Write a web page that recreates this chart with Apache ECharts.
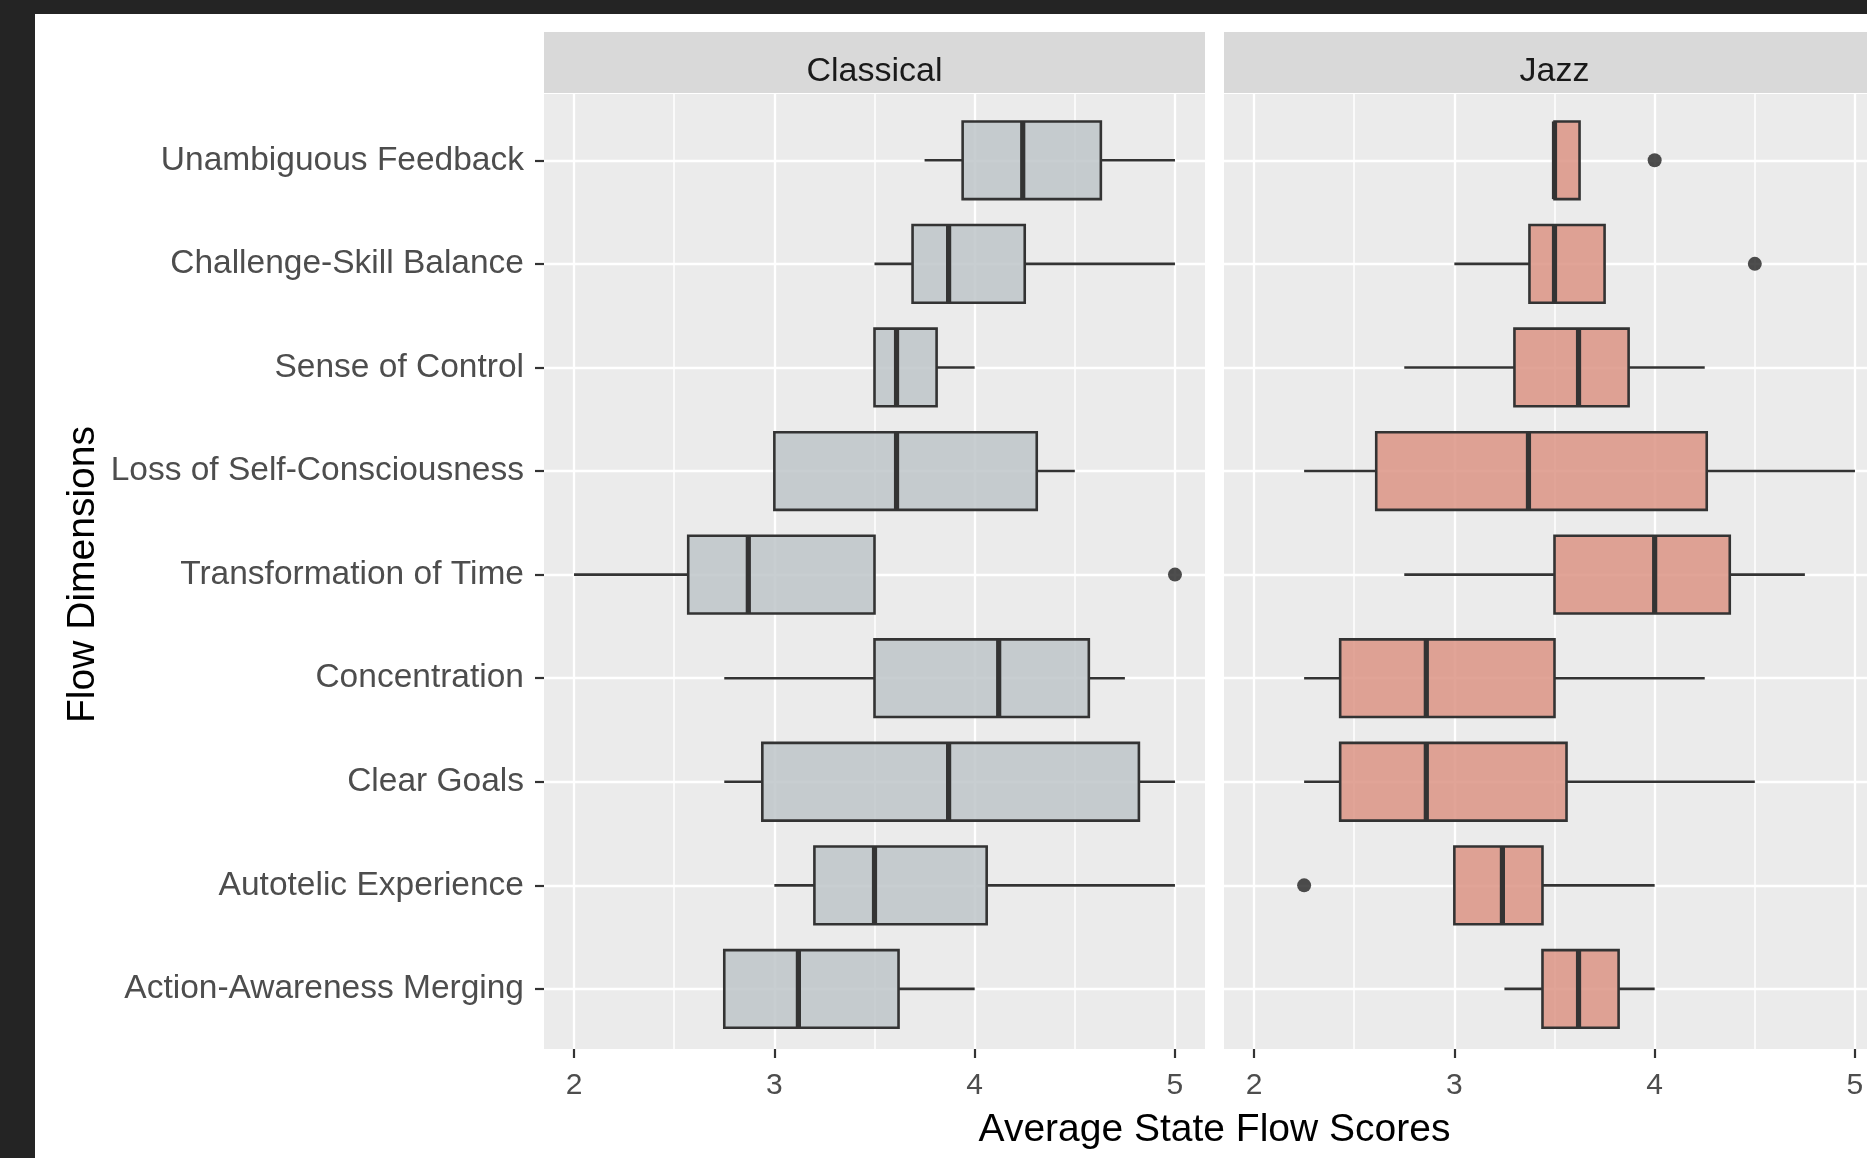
<!DOCTYPE html>
<html>
<head>
<meta charset="utf-8">
<title>Flow Dimensions by Genre</title>
<script src="https://cdn.jsdelivr.net/npm/echarts@6/dist/echarts.min.js"></script>
<style>
  html, body { margin: 0; padding: 0; background: #fff; }
  #chart { position: absolute; left: 0; top: 0; width: 1867px; height: 1158px; }
  .frame { position: absolute; background: #242424; }
</style>
</head>
<body>
<div id="chart"></div>
<div class="frame" style="left:0;top:0;width:1867px;height:14px"></div>
<div class="frame" style="left:0;top:0;width:35px;height:1158px"></div>
<script>
// flow dimensions, top to bottom as drawn
const dimensions = [
  'Unambiguous Feedback',
  'Challenge-Skill Balance',
  'Sense of Control',
  'Loss of Self-Consciousness',
  'Transformation of Time',
  'Concentration',
  'Clear Goals',
  'Autotelic Experience',
  'Action-Awareness Merging'
]
const panels = ['Classical', 'Jazz']
const xTicks = [2, 3, 4, 5]
const xMinorTicks = [2.5, 3.5, 4.5]

// [lower whisker, Q1, median, Q3, upper whisker]
const classicalStats = [
  [3.75, 3.94, 4.24, 4.63, 5.0],
  [3.5, 3.69, 3.87, 4.25, 5.0],
  [3.5, 3.5, 3.61, 3.81, 4.0],
  [3.0, 3.0, 3.61, 4.31, 4.5],
  [2.0, 2.57, 2.87, 3.5, 3.5],
  [2.75, 3.5, 4.12, 4.57, 4.75],
  [2.75, 2.94, 3.87, 4.82, 5.0],
  [3.0, 3.2, 3.5, 4.06, 5.0],
  [2.75, 2.75, 3.12, 3.62, 4.0]
]
const jazzStats = [
  [3.5, 3.5, 3.5, 3.625, 3.625],
  [3.0, 3.375, 3.5, 3.75, 3.75],
  [2.75, 3.3, 3.62, 3.87, 4.25],
  [2.25, 2.61, 3.37, 4.26, 5.0],
  [2.75, 3.5, 4.0, 4.375, 4.75],
  [2.25, 2.43, 2.86, 3.5, 4.25],
  [2.25, 2.43, 2.86, 3.56, 4.5],
  [3.0, 3.0, 3.24, 3.44, 4.0],
  [3.25, 3.44, 3.62, 3.82, 4.0]
]
// outliers: [dimension, value]
const classicalOutliers = [['Transformation of Time', 5.0]]
const jazzOutliers = [
  ['Unambiguous Feedback', 4.0],
  ['Challenge-Skill Balance', 4.5],
  ['Autotelic Experience', 2.25]
]

// layout (px)
const panelTop = 94
const panelH = 955
const panelW = 661
const panelLeft = [544, 1224]
const stripTop = 32
const stripH = 61
const font = '"Liberation Sans", Arial, sans-serif'

const boxColors = ['rgba(190,197,201,0.85)', 'rgba(220,148,133,0.85)']
const allStats = [classicalStats, jazzStats]
const allOutliers = [classicalOutliers, jazzOutliers]

function renderBox(fill) {
  return function (params, api) {
    const pos = api.value(0)
    const lo = api.coord([api.value(1), pos])
    const q1 = api.coord([api.value(2), pos])
    const med = api.coord([api.value(3), pos])
    const q3 = api.coord([api.value(4), pos])
    const hi = api.coord([api.value(5), pos])
    const h = api.size([0, 0.75])[1]
    const y = q1[1]
    const line = { stroke: '#333333', lineWidth: 2.6 }
    return {
      type: 'group',
      children: [
        { type: 'line', shape: { x1: lo[0], y1: y, x2: q1[0], y2: y }, style: line },
        { type: 'line', shape: { x1: q3[0], y1: y, x2: hi[0], y2: y }, style: line },
        {
          type: 'rect',
          shape: { x: q1[0], y: y - h / 2, width: q3[0] - q1[0], height: h },
          style: { fill: fill, stroke: '#333333', lineWidth: 2.6 }
        },
        {
          type: 'line',
          shape: { x1: med[0], y1: y - h / 2, x2: med[0], y2: y + h / 2 },
          style: { stroke: '#333333', lineWidth: 5.2 }
        }
      ]
    }
  }
}

const chart = echarts.init(document.getElementById('chart'))

const grid = []
const xAxis = []
const yAxis = []
const series = []
const graphic = []

panels.forEach(function (name, p) {
  grid.push({
    left: panelLeft[p], top: panelTop, width: panelW, height: panelH,
    show: true, backgroundColor: '#ebebeb', borderWidth: 0,
    outerBoundsMode: 'none', containLabel: false
  })
  // major x axis
  xAxis.push({
    type: 'value', gridIndex: p, min: 1.85, max: 5.15,
    axisLine: { show: false },
    axisTick: { show: true, length: 9, customValues: xTicks, lineStyle: { color: '#333333', width: 2.2 } },
    axisLabel: { customValues: xTicks, color: '#4d4d4d', fontSize: 30, fontFamily: font, margin: 22 },
    splitLine: { show: true, lineStyle: { color: '#ffffff', width: 2.3 } }
  })
  // minor x grid lines
  xAxis.push({
    type: 'value', gridIndex: p, min: 1.85, max: 5.15, position: 'top',
    axisLine: { show: false },
    axisTick: { show: false, customValues: xMinorTicks },
    axisLabel: { show: false },
    splitLine: { show: true, lineStyle: { color: '#ffffff', width: 1.5 } }
  })
  yAxis.push({
    type: 'value', gridIndex: p, min: 0.36, max: 9.58, inverse: true,
    axisLine: { show: false },
    axisTick: {
      show: p === 0, length: 9, customValues: [1, 2, 3, 4, 5, 6, 7, 8, 9],
      lineStyle: { color: '#333333', width: 2.2 }
    },
    axisLabel: {
      show: p === 0, customValues: [1, 2, 3, 4, 5, 6, 7, 8, 9],
      color: '#4d4d4d', fontSize: 33.5, fontFamily: font, margin: 20,
      formatter: function (v) { return dimensions[Math.round(v) - 1] }
    },
    splitLine: { show: true, lineStyle: { color: '#ffffff', width: 2.3 } }
  })

  series.push({
    type: 'custom',
    name: name,
    xAxisIndex: p * 2,
    yAxisIndex: p,
    renderItem: renderBox(boxColors[p]),
    encode: { x: [1, 2, 3, 4, 5], y: 0 },
    data: allStats[p].map(function (s, i) { return [i + 1].concat(s) }),
    z: 3
  })
  series.push({
    type: 'scatter',
    name: name + ' outliers',
    xAxisIndex: p * 2,
    yAxisIndex: p,
    symbol: 'circle',
    symbolSize: 14,
    itemStyle: { color: '#222222' },
    data: allOutliers[p].map(function (o) { return [o[1], dimensions.indexOf(o[0]) + 1] }),
    z: 4
  })

  // facet strip
  graphic.push({
    type: 'rect',
    shape: { x: panelLeft[p], y: stripTop, width: panelW, height: stripH },
    style: { fill: '#d9d9d9' }
  })
  graphic.push({
    type: 'text',
    x: panelLeft[p] + panelW / 2, y: stripTop + stripH / 2 + 9.5,
    style: {
      text: name, font: '34px ' + font, fill: '#1a1a1a',
      align: 'center', verticalAlign: 'middle', textAlign: 'center', textVerticalAlign: 'middle'
    }
  })
})

// axis titles
graphic.push({
  type: 'text',
  x: (panelLeft[0] + panelLeft[1] + panelW) / 2, y: 1130,
  style: {
    text: 'Average State Flow Scores', font: '39px ' + font, fill: '#000000',
    align: 'center', verticalAlign: 'middle', textAlign: 'center', textVerticalAlign: 'middle'
  }
})
graphic.push({
  type: 'text',
  x: 83, y: panelTop + panelH / 2 + 3,
  rotation: Math.PI / 2,
  style: {
    text: 'Flow Dimensions', font: '39px ' + font, fill: '#000000',
    align: 'center', verticalAlign: 'middle', textAlign: 'center', textVerticalAlign: 'middle'
  }
})

chart.setOption({
  backgroundColor: '#ffffff',
  animation: false,
  grid: grid,
  xAxis: xAxis,
  yAxis: yAxis,
  series: series,
  graphic: { elements: graphic }
})
</script>
</body>
</html>
